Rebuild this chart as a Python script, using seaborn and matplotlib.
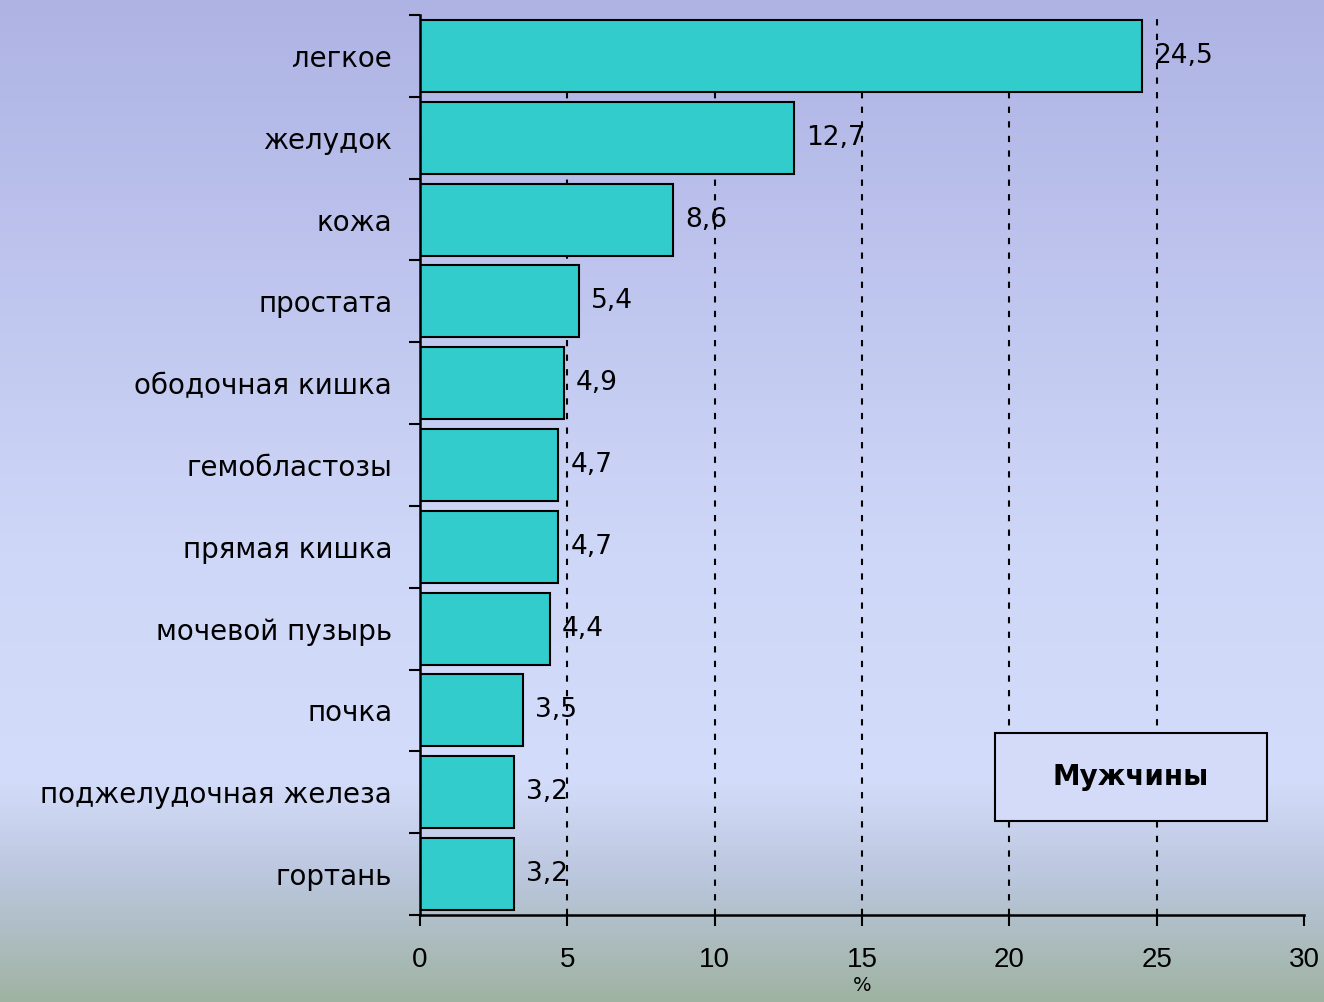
import numpy as np
import pandas as pd
import matplotlib.pyplot as plt
import seaborn as sns
from matplotlib.colors import LinearSegmentedColormap
from matplotlib.patches import Rectangle

# данные
sites = ["легкое", "желудок", "кожа", "простата", "ободочная кишка", "гемобластозы",
         "прямая кишка", "мочевой пузырь", "почка", "поджелудочная железа", "гортань"]
share = [24.5, 12.7, 8.6, 5.4, 4.9, 4.7, 4.7, 4.4, 3.5, 3.2, 3.2]
x_ticks = [0, 5, 10, 15, 20, 25, 30]

df = pd.DataFrame({"site": sites, "share": share})

sns.set_style("white", {"xtick.bottom": True, "ytick.left": True})
plt.rcParams["font.family"] = ["DejaVu Sans"]
plt.rcParams["text.color"] = "black"
plt.rcParams["xtick.color"] = "black"
plt.rcParams["ytick.color"] = "black"
plt.rcParams["axes.labelcolor"] = "black"

fig = plt.figure(figsize=(13.24, 10.02), dpi=100)

# фон с градиентом
bg = fig.add_axes([0, 0, 1, 1])
cmap = LinearSegmentedColormap.from_list(
    "bg", [(0.0, "#aeb3e4"), (0.55, "#cfd7f8"), (0.78, "#d3dcfa"), (0.88, "#bac6dc"), (1.0, "#9fb3a2")])
grad = np.linspace(0, 1, 256).reshape(-1, 1)
bg.imshow(grad, aspect="auto", cmap=cmap, extent=[0, 1, 0, 1], origin="upper")
bg.axis("off")

ax = fig.add_axes([420 / 1324, 87 / 1002, 884 / 1324, 900 / 1002])
ax.patch.set_alpha(0)

sns.barplot(data=df, x="share", y="site", order=sites, color="#33cccc", saturation=1,
            edgecolor="black", linewidth=1.5, width=0.88, ax=ax, zorder=2)

ax.set_xlim(0, 30)
ax.set_ylim(len(sites) - 0.5, -0.5)
ax.set_xticks(x_ticks)
ax.set_xticklabels([str(t) for t in x_ticks], fontsize=20, family="Liberation Sans")
ax.tick_params(axis="x", length=8, width=1.5, direction="out", pad=15)

# засечки на границах категорий
ax.set_yticks(np.arange(len(sites)))
ax.set_yticklabels(sites, fontsize=20)
ax.set_yticks(np.arange(-0.5, len(sites)), minor=True)
ax.tick_params(axis="y", which="major", length=0, pad=20)
ax.tick_params(axis="y", which="minor", length=8, width=1.5, direction="out")
ax.set_ylabel("")
ax.set_xlabel("%", fontsize=14, labelpad=2)

for t in x_ticks[1:-1]:
    ax.axvline(t, color="black", linestyle=(0, (3, 4)), linewidth=1.5, zorder=1)

for s in ["top", "right"]:
    ax.spines[s].set_visible(False)
for s in ["left", "bottom"]:
    ax.spines[s].set_color("black")
    ax.spines[s].set_linewidth(1.8)

for i, v in enumerate(share):
    ax.text(v + 0.4, i, f"{v:.1f}".replace(".", ","), va="center", ha="left", fontsize=19, zorder=3)

ax.add_patch(Rectangle((0.650, 0.104), 0.308, 0.098, transform=ax.transAxes,
                       facecolor="#d3dbf9", edgecolor="black", linewidth=1.5, zorder=4))
ax.text(0.804, 0.153, "Мужчины", transform=ax.transAxes, ha="center", va="center",
        fontsize=20, fontweight="bold", zorder=5)

fig.savefig("out.png", dpi=100)
